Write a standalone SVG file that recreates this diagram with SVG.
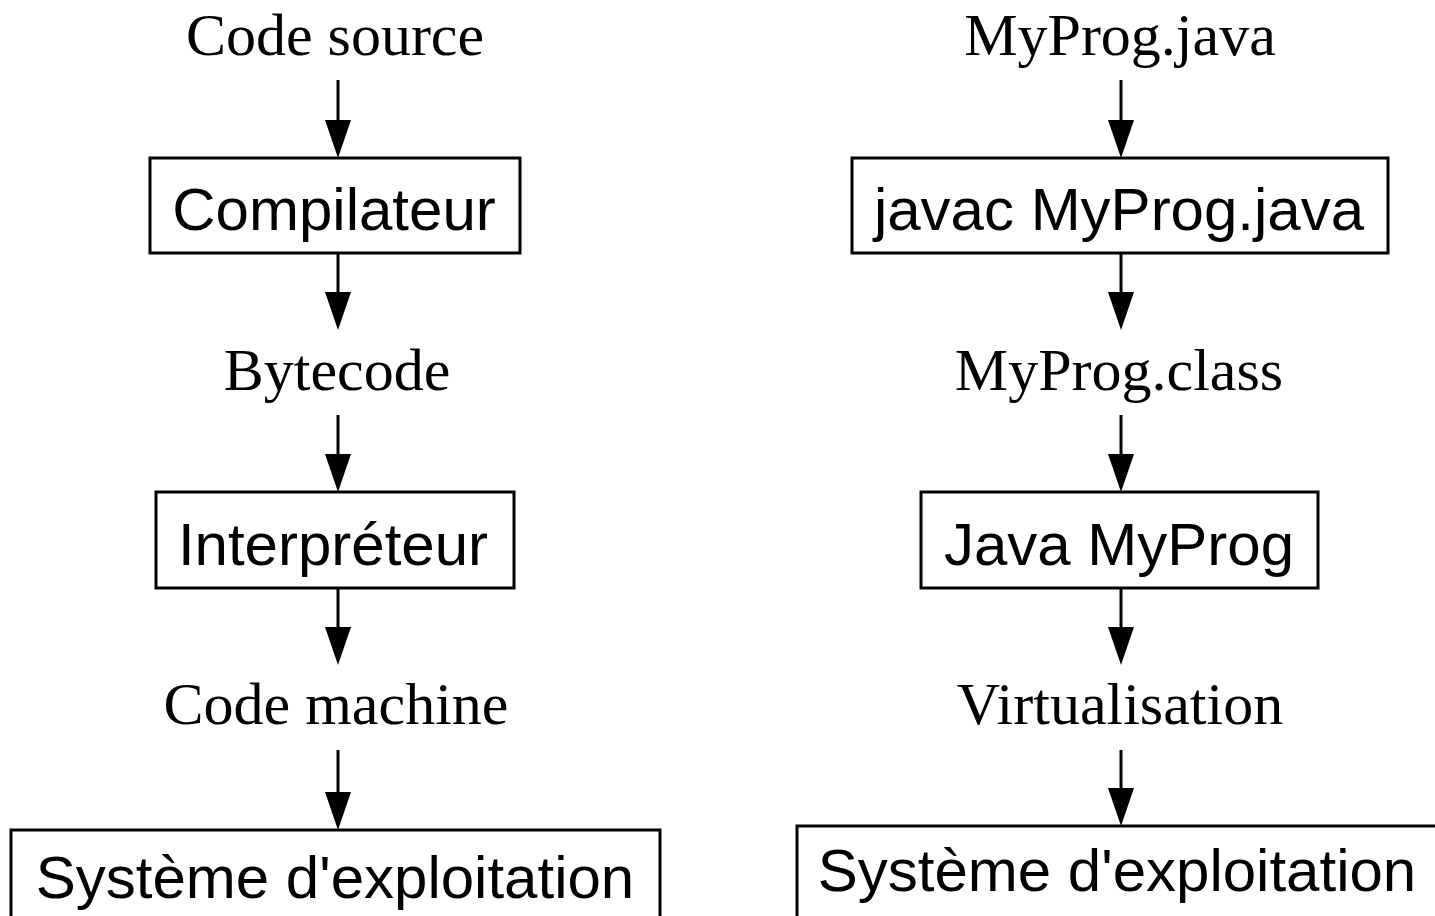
<svg xmlns="http://www.w3.org/2000/svg" width="1435" height="916" viewBox="0 0 1435 916">
<defs>
<style>
.lbl{font-family:"Liberation Serif","Times New Roman",serif;font-size:60px;fill:#000;text-anchor:middle}
.box rect{fill:#fff;stroke:#000;stroke-width:3}
.box text{font-family:"Liberation Sans",Arial,sans-serif;font-size:60px;fill:#000;text-anchor:middle}
.edge{stroke:#000;stroke-width:3;fill:none;marker-end:url(#ah)}
</style>
<marker id="ah" viewBox="0 0 38 26" refX="32" refY="13" markerWidth="38" markerHeight="26" markerUnits="userSpaceOnUse" orient="auto">
<path d="M0,0 L38,13 L0,26 z" fill="#000"/>
</marker>
</defs>
<rect width="1435" height="916" fill="#fff"/>
<g id="connectors">
<line class="edge" x1="338" y1="80" x2="338" y2="152"/>
<line class="edge" x1="338" y1="253" x2="338" y2="324"/>
<line class="edge" x1="338" y1="415" x2="338" y2="486"/>
<line class="edge" x1="338" y1="588" x2="338" y2="659"/>
<line class="edge" x1="338" y1="750" x2="338" y2="824"/>
<line class="edge" x1="1121" y1="80" x2="1121" y2="152"/>
<line class="edge" x1="1121" y1="253" x2="1121" y2="324"/>
<line class="edge" x1="1121" y1="415" x2="1121" y2="486"/>
<line class="edge" x1="1121" y1="588" x2="1121" y2="659"/>
<line class="edge" x1="1121" y1="750" x2="1121" y2="820"/>
</g>
<g id="code-source"><text class="lbl" x="335" y="55">Code source</text></g>
<g id="compilateur" class="box"><rect x="150" y="158" width="370" height="95"/><text x="334" y="230">Compilateur</text></g>
<g id="bytecode"><text class="lbl" x="337" y="390">Bytecode</text></g>
<g id="interpreteur" class="box"><rect x="156" y="492" width="358" height="96"/><text x="333" y="565">Interpréteur</text></g>
<g id="code-machine"><text class="lbl" x="336" y="724">Code machine</text></g>
<g id="systeme-1" class="box"><rect x="11" y="830" width="649" height="100"/><text x="335" y="898">Système d'exploitation</text></g>
<g id="myprog-java"><text class="lbl" x="1120" y="55">MyProg.java</text></g>
<g id="javac" class="box"><rect x="852" y="158" width="536" height="95"/><text x="1119" y="230">javac MyProg.java</text></g>
<g id="myprog-class"><text class="lbl" x="1119" y="390">MyProg.class</text></g>
<g id="java-myprog" class="box"><rect x="921" y="492" width="397" height="96"/><text x="1119" y="565">Java MyProg</text></g>
<g id="virtualisation"><text class="lbl" x="1120" y="724">Virtualisation</text></g>
<g id="systeme-2" class="box"><rect x="797" y="826" width="660" height="100"/><text x="1117" y="891">Système d'exploitation</text></g>
</svg>
